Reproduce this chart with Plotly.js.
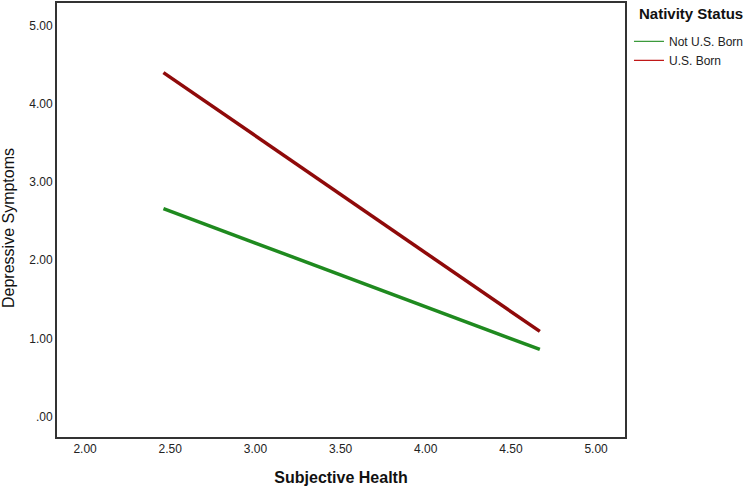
<!DOCTYPE html>
<html>
<head>
<meta charset="utf-8">
<script src="https://cdn.plot.ly/plotly-3.0.1.min.js"></script>
<style>html,body{margin:0;padding:0;background:#fff}</style>
</head>
<body>
<div id="chart" style="width:750px;height:489px"></div>
<script>
// simple slopes, Subjective Health -> Depressive Symptoms
var health = [2.46, 4.67];
var notUSBorn = [2.66, 0.86];
var usBorn = [4.40, 1.09];
var xTicks = [2, 2.5, 3, 3.5, 4, 4.5, 5];
var yTicks = [0, 1, 2, 3, 4, 5];

var green = "#1f8a1f", red = "#8f0a0a";

var traces = [
	{x: health, y: notUSBorn, mode: "lines", line: {color: green, width: 3.5}, showlegend: false, hoverinfo: "x+y"},
	{x: health, y: usBorn, mode: "lines", line: {color: red, width: 3.5}, showlegend: false, hoverinfo: "x+y"},
	// thin copies for the legend only
	{x: [null], y: [null], mode: "lines", line: {color: "#3c9a3c", width: 1.2}, name: "Not U.S. Born"},
	{x: [null], y: [null], mode: "lines", line: {color: "#c01818", width: 1.2}, name: "U.S. Born"}
];

function fmt(v){ var s = v.toFixed(2); return s.indexOf("0.") === 0 ? s.slice(1) : s; }

var layout = {
	width: 750, height: 489,
	margin: {l: 57, r: 125, t: 3, b: 52, autoexpand: false},
	paper_bgcolor: "#fff", plot_bgcolor: "#fff",
	font: {family: "Liberation Sans, Arial, sans-serif", size: 12, color: "#222"},
	xaxis: {
		range: [1.835, 5.17], tickvals: xTicks, ticktext: xTicks.map(fmt),
		showgrid: false, zeroline: false, ticks: "",
		showline: true, mirror: true, linecolor: "#333", linewidth: 2,
		title: {text: "Subjective Health", font: {size: 16, color: "#111", weight: "bold"}, standoff: 16}
	},
	yaxis: {
		range: [-0.26, 5.29], tickvals: yTicks, ticktext: yTicks.map(fmt),
		showgrid: false, zeroline: false, ticks: "", ticklabelstandoff: 0,
		showline: true, mirror: true, linecolor: "#333", linewidth: 2
	},
	annotations: [
		{text: "Depressive Symptoms", xref: "paper", yref: "paper", x: -48/568, y: (437 - 228) / 434,
			xanchor: "center", yanchor: "middle", textangle: -90, showarrow: false,
			font: {size: 16, color: "#111"}},
		{text: "<b>Nativity Status</b>", xref: "paper", yref: "paper", x: (637 - 57) / 568, y: (437 - 14) / 434,
			xanchor: "left", yanchor: "middle", showarrow: false,
			font: {size: 15, color: "#111"}}
	],
	legend: {
		x: 1.007, xanchor: "left", y: 0.945, yanchor: "top",
		font: {size: 12, color: "#222"}, itemwidth: 30, tracegroupgap: 0
	},
	showlegend: true
};

Plotly.newPlot(document.getElementById("chart"), traces, layout, {displayModeBar: false, responsive: false});
</script>
</body>
</html>
